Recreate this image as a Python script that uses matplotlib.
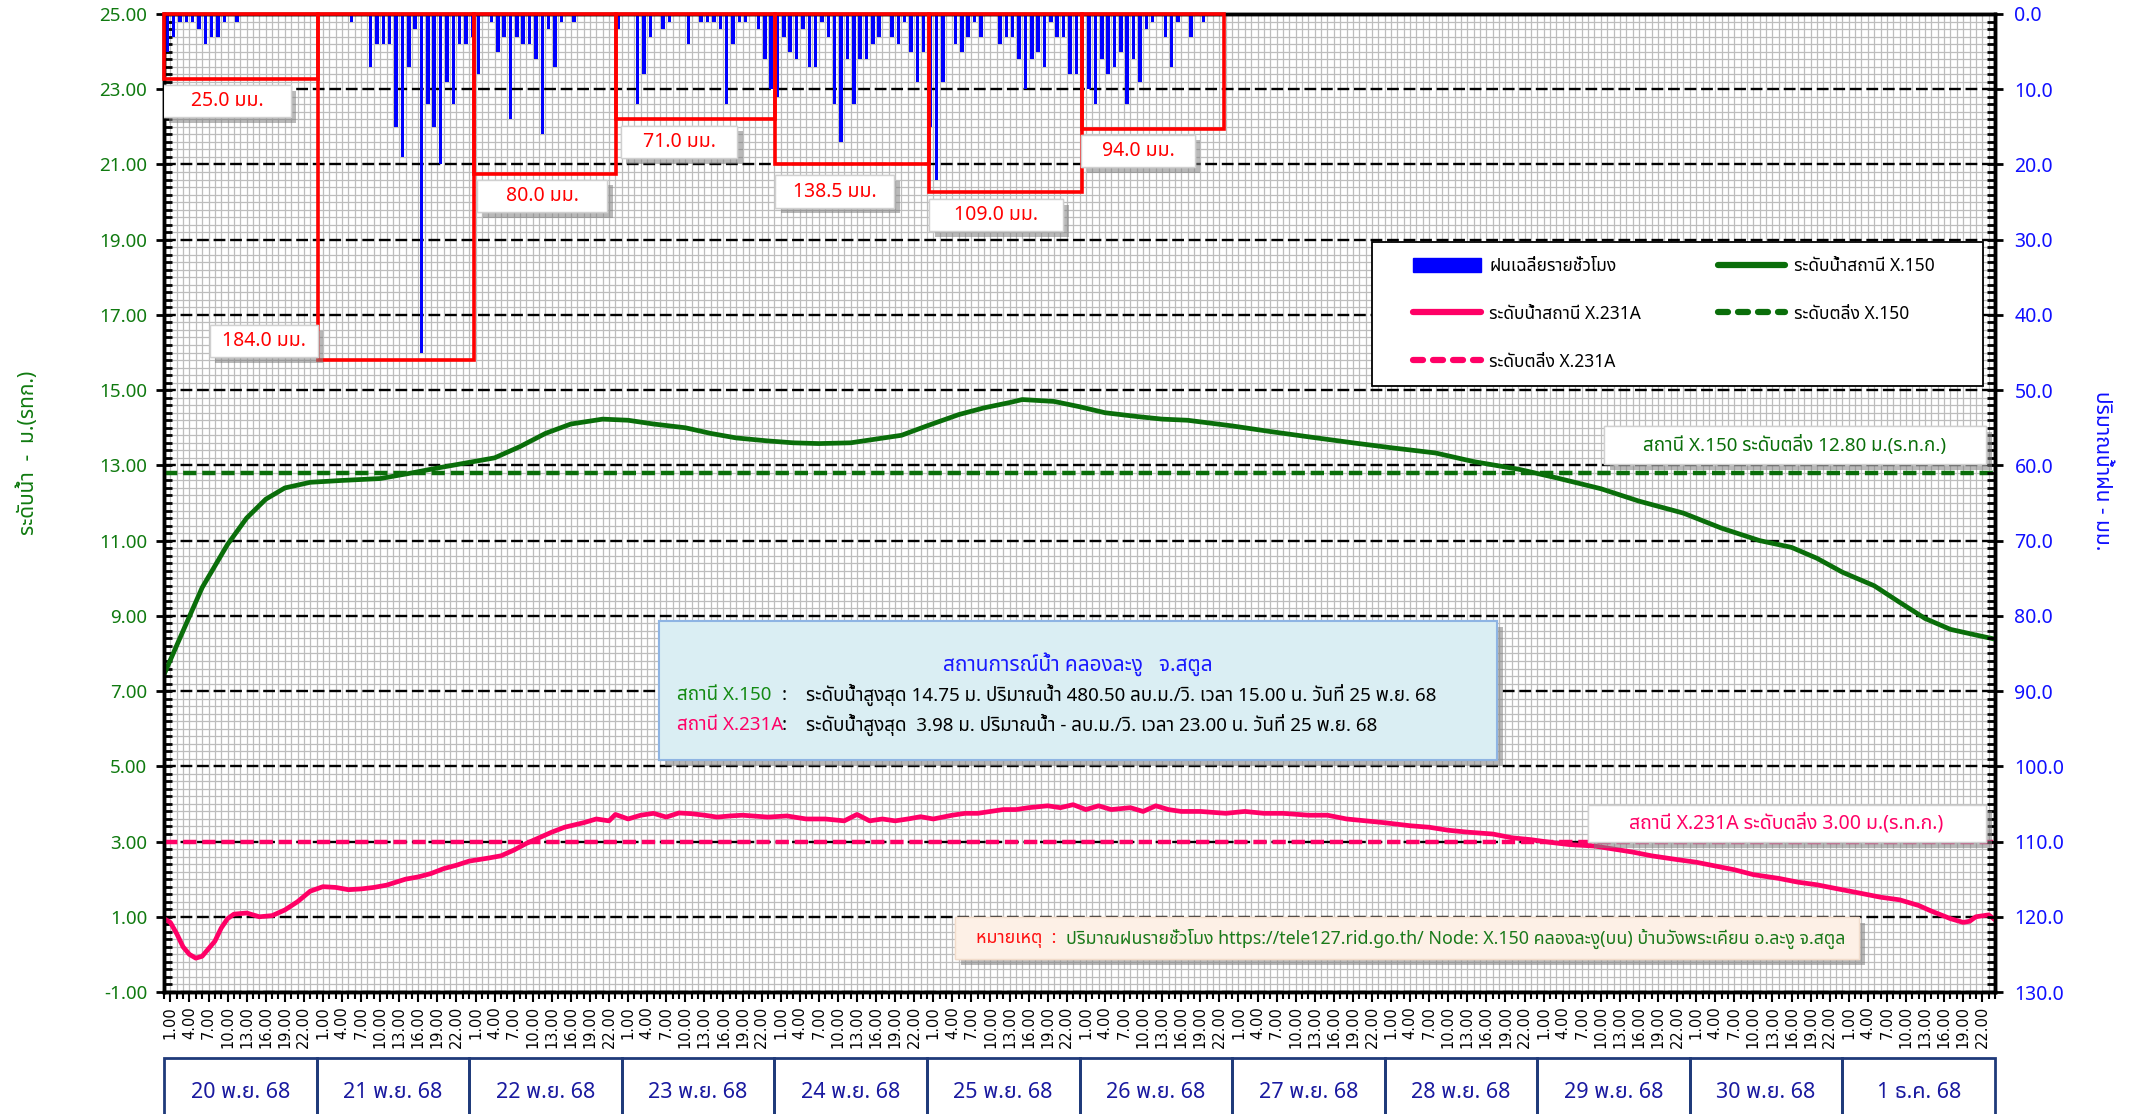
import numpy as np
import matplotlib
matplotlib.use('Agg')
import matplotlib.pyplot as plt
from matplotlib import font_manager
from matplotlib.patches import Rectangle, Patch
from matplotlib.lines import Line2D
from matplotlib.ticker import MultipleLocator, FixedLocator
from matplotlib.transforms import blended_transform_factory
import matplotlib.patheffects as pe

# ---------------- data ----------------
day_labels = ['20 พ.ย. 68', '21 พ.ย. 68', '22 พ.ย. 68', '23 พ.ย. 68', '24 พ.ย. 68',
              '25 พ.ย. 68', '26 พ.ย. 68', '27 พ.ย. 68', '28 พ.ย. 68', '29 พ.ย. 68',
              '30 พ.ย. 68', '1 ธ.ค. 68']

# hourly rain (mm), one list of 24 values per day (20-26 Nov), later days are zero
rain_20 = [5, 3, 1, 1, 1, 2, 4, 3, 3, 1, 0, 1, 0, 0, 0, 0, 0, 0, 0, 0, 0, 0, 0, 0]
rain_21 = [0, 0, 0, 0, 0, 1, 0, 0, 7, 4, 4, 4, 15, 19, 7, 2, 45, 12, 15, 20, 9, 12, 4, 4]
rain_22 = [3, 8, 0, 1, 5, 3, 14, 3, 4, 4, 6, 16, 2, 7, 1, 0, 1, 0, 0, 0, 0, 0, 0, 2]
rain_23 = [0, 0, 12, 8, 3, 0, 2, 1, 0, 0, 4, 0, 1, 1, 1, 2, 12, 4, 1, 1, 0, 2, 6, 10]
rain_24 = [11, 3, 5, 6, 2, 7, 7, 1, 3, 12, 17, 6, 12, 6, 6, 4, 3, 0, 3, 4, 1, 5, 9, 5]
rain_25 = [15, 22, 9, 0, 4, 5, 3, 1, 3, 0, 0, 4, 3, 3, 6, 10, 6, 5, 7, 1, 3, 3, 8, 8]
rain_26 = [8, 10, 12, 6, 8, 7, 5, 12, 6, 9, 2, 1, 0, 3, 7, 1, 0, 3, 0, 1, 0, 0, 0, 0]

# daily rain totals (boxes)
rain_totals = ['25.0', '184.0', '80.0', '71.0', '138.5', '109.0', '94.0']
rain_box_edges = [0, 24.3, 48.7, 71.1, 96.1, 120.3, 144.4, 166.7]
rain_box_depth = [8.7, 46.0, 21.3, 14.0, 20.0, 23.7, 15.3]

# water level X.150 (m MSL): hours from 00:00 of 20 Nov
x150_hours = [0, 3, 6, 10, 13, 16, 19, 23, 28, 34, 39, 43, 47, 52, 56, 60, 64, 69, 73, 77,
              82, 86, 90, 95, 99, 103, 108, 112, 116, 120, 125, 129, 133, 135, 140, 144,
              148, 153, 157, 161, 168, 174, 180, 187, 193, 200, 206, 213, 219, 226, 232,
              239, 245, 251, 256, 260, 264, 269, 273, 277, 281, 285, 288]
x150_level = [7.44, 8.6, 9.75, 10.9, 11.6, 12.1, 12.4, 12.55, 12.6, 12.65, 12.8, 12.93,
              13.05, 13.2, 13.5, 13.85, 14.1, 14.23, 14.2, 14.1, 14.0, 13.85, 13.73, 13.65,
              13.6, 13.58, 13.6, 13.7, 13.8, 14.05, 14.35, 14.53, 14.67, 14.75, 14.7, 14.56,
              14.4, 14.3, 14.23, 14.2, 14.05, 13.9, 13.76, 13.6, 13.47, 13.33, 13.1, 12.9,
              12.67, 12.38, 12.05, 11.73, 11.33, 11.0, 10.82, 10.53, 10.16, 9.8, 9.36, 8.93,
              8.64, 8.49, 8.38]

# water level X.231A
x231_hours = [0, 1, 2, 3, 4, 5, 6, 8, 9, 10, 11, 13, 15, 17, 19, 21, 23, 25, 27, 29, 31, 33,
              35, 38, 40, 42, 44, 46, 48, 51, 53, 55, 57, 59, 61, 63, 66, 68, 70, 71, 73, 75,
              77, 79, 81, 83, 85, 87, 89, 91, 95, 98, 101, 104, 107, 109, 111, 113, 115, 117,
              119, 121, 124, 126, 128, 130, 132, 134, 136, 139, 141, 143, 145, 147, 149, 152,
              154, 156, 158, 160, 163, 167, 170, 173, 176, 180, 183, 186, 189, 192, 196, 199,
              202, 205, 209, 212, 215, 218, 221, 225, 228, 231, 234, 238, 241, 244, 247, 250,
              254, 257, 260, 263, 267, 270, 273, 276, 278, 281, 283, 284, 285, 287, 288]
x231_level = [0.95, 0.85, 0.55, 0.2, 0.0, -0.1, -0.05, 0.35, 0.7, 0.95, 1.07, 1.1, 1.0, 1.03,
              1.18, 1.4, 1.68, 1.8, 1.78, 1.72, 1.74, 1.78, 1.84, 2.0, 2.06, 2.15, 2.28, 2.37,
              2.48, 2.56, 2.62, 2.77, 2.95, 3.1, 3.25, 3.38, 3.5, 3.6, 3.55, 3.72, 3.6, 3.7,
              3.75, 3.65, 3.76, 3.74, 3.7, 3.65, 3.68, 3.7, 3.65, 3.68, 3.6, 3.6, 3.55, 3.72,
              3.55, 3.6, 3.55, 3.6, 3.66, 3.6, 3.7, 3.75, 3.75, 3.8, 3.85, 3.85, 3.9, 3.95,
              3.9, 3.98, 3.85, 3.95, 3.85, 3.9, 3.8, 3.95, 3.85, 3.8, 3.8, 3.75, 3.8, 3.75,
              3.75, 3.7, 3.7, 3.6, 3.55, 3.5, 3.42, 3.38, 3.3, 3.25, 3.2, 3.1, 3.05, 2.98,
              2.92, 2.88, 2.8, 2.72, 2.62, 2.52, 2.45, 2.35, 2.25, 2.12, 2.02, 1.92, 1.85,
              1.75, 1.62, 1.52, 1.45, 1.3, 1.15, 0.95, 0.85, 0.88, 1.0, 1.05, 0.92]

bank_x150 = 12.80
bank_x231 = 3.00

# ---------------- fonts ----------------
def find_thai_font():
    found = {}
    try:
        from fontTools.ttLib import TTFont
    except Exception:
        return None
    for f in font_manager.fontManager.ttflist:
        try:
            tt = TTFont(f.fname, fontNumber=0, lazy=True)
            cmap = tt.getBestCmap()
            if cmap and 0x0E01 in cmap and 0x0E49 in cmap:
                found.setdefault(f.name, f.fname)
        except Exception:
            pass
    prefs = ['Tahoma', 'Noto Sans Thai', 'Noto Sans Thai UI', 'Loma', 'Garuda', 'Sarabun',
             'Umpush', 'Waree', 'Kinnari', 'Norasi', 'Noto Serif Thai', 'FreeSans']
    for p in prefs:
        if p in found:
            return p
    if found:
        return sorted(found)[0]
    return None

THAI = find_thai_font()
FAM = [THAI, 'DejaVu Sans'] if THAI else ['DejaVu Sans']
plt.rcParams['font.family'] = FAM

GREEN = '#0a6e0a'
GREEN_T = '#107a10'
PINK = '#ff0066'
BLUE_T = '#1010ff'
RED = '#ff0000'

W, H = 2140, 1114
fig = plt.figure(figsize=(W / 100, H / 100), dpi=100)
fig.patch.set_facecolor('white')

def fx(px):
    return px / W

def fy(py):
    return 1 - py / H

ax = fig.add_axes([fx(164), fy(992), fx(1995) - fx(164), fy(14) - fy(992)])
ax.set_xlim(0, 288)
ax.set_ylim(-1, 25)

# grid
ax.set_axisbelow(True)
ax.xaxis.set_minor_locator(MultipleLocator(1))
ax.yaxis.set_minor_locator(MultipleLocator(0.2))
ax.grid(which='minor', color='#bdbdbd', lw=0.9)
ax.grid(which='major', axis='x', color='#bdbdbd', lw=0.9)
ax.grid(which='major', axis='y', color='black', lw=1.7, ls=(0, (5, 2)))

# x ticks
xt = [h for h in range(1, 288, 3)]
ax.xaxis.set_major_locator(FixedLocator(xt))
ax.set_xticklabels([f'{h % 24}.00' for h in xt], rotation=90, fontfamily='DejaVu Sans',
                   fontsize=10.5)
ax.tick_params(axis='x', which='major', direction='out', length=7, width=1.5, pad=3)
ax.tick_params(axis='x', which='minor', direction='out', length=5, width=1.5)

# y ticks left
ax.set_yticks(np.arange(-1, 26, 2))
ax.set_yticklabels([f'{v:.2f}' for v in np.arange(-1, 26, 2)])
ax.tick_params(axis='y', which='major', direction='inout', length=12, width=2,
               labelsize=13.5, labelcolor=GREEN_T, pad=6)
ax.tick_params(axis='y', which='minor', direction='in', length=6, width=2)

for s in ax.spines.values():
    s.set_linewidth(2.5)

# water levels
ax.axhline(bank_x150, color=GREEN, lw=3.2, ls=(0, (3, 1.3)), zorder=4)
ax.axhline(bank_x231, color=PINK, lw=3.2, ls=(0, (3, 1.3)), zorder=4)
ax.plot(x150_hours, x150_level, color=GREEN, lw=3.4, zorder=5, solid_capstyle='round',
        solid_joinstyle='round')
ax.plot(x231_hours, x231_level, color=PINK, lw=3.4, zorder=5, solid_capstyle='round',
        solid_joinstyle='round')

# rain axis
ax2 = ax.twinx()
ax2.set_ylim(130, 0)
ax2.set_yticks(np.arange(0, 131, 10))
ax2.set_yticklabels([f'{v:.1f}' for v in np.arange(0, 131, 10)])
ax2.yaxis.set_minor_locator(MultipleLocator(1))
ax2.tick_params(axis='y', which='major', direction='inout', length=12, width=2,
                labelsize=14, labelcolor=BLUE_T, pad=8)
ax2.tick_params(axis='y', which='minor', direction='in', length=6, width=2)
for s in ax2.spines.values():
    s.set_linewidth(2.5)

rain = np.zeros(288)
for d, vals in enumerate([rain_20, rain_21, rain_22, rain_23, rain_24, rain_25, rain_26]):
    rain[d * 24:(d + 1) * 24] = vals
hours_c = np.arange(288) + 0.5
ax2.bar(hours_c, rain, width=0.55, color='#0000ff', zorder=2)

shadow = [pe.withSimplePatchShadow(offset=(4, -4), shadow_rgbFace='#808080', alpha=0.55),
          pe.Normal()]

for i in range(len(rain_totals)):
    x0, x1 = rain_box_edges[i], rain_box_edges[i + 1]
    ax2.add_patch(Rectangle((x0, 0), x1 - x0, rain_box_depth[i], fill=False,
                            ec=RED, lw=2.6, zorder=3, clip_on=False))

# label positions (hour, rain-axis units) and widths (hours)
lab_pos = [(9.9, 11.6), (15.7, 43.5), (59.5, 24.2), (81.0, 17.0), (105.5, 23.6),
           (130.9, 26.75), (153.2, 18.2)]
lab_w = [20, 17, 20.4, 18.3, 18.7, 21, 17.8]
for i, t in enumerate(rain_totals):
    cx, cy = lab_pos[i]
    w = lab_w[i]
    r = Rectangle((cx - w / 2, cy - 2.15), w, 4.3, fc='white', ec='#d0d0d0', lw=1,
                  zorder=4, path_effects=shadow)
    ax2.add_patch(r)
    ax2.text(cx, cy, f'{t} มม.', color=RED, fontsize=14, ha='center', va='center',
             zorder=5)

# day table
trans = blended_transform_factory(ax.transData, fig.transFigure)
for d, lab in enumerate(day_labels):
    ax.add_patch(Rectangle((d * 24, fy(1125)), 24, fy(1058) - fy(1125), fill=False,
                           ec='#1f3a7a', lw=2, transform=trans, clip_on=False))
    ax.text(d * 24 + 12, fy(1092), lab, transform=trans, ha='center', va='center',
            color='#1a1aa0', fontsize=15.5, clip_on=False)

# axis labels
fig.text(fx(28), fy(453), 'ระดับน้ำ  -  ม.(รทก.)', rotation=90, color=GREEN_T,
         fontsize=15, ha='center', va='center')
fig.text(fx(2102), fy(471), 'ปริมาณน้ำฝน - มม.', rotation=270, color=BLUE_T,
         fontsize=15, ha='center', va='center')

def fig_box(x0, y0, x1, y1, fc, ec, lw=1.0, shadow_on=True, z=6):
    r = Rectangle((fx(x0), fy(y1)), fx(x1) - fx(x0), fy(y0) - fy(y1), transform=fig.transFigure,
                  fc=fc, ec=ec, lw=lw, zorder=z)
    if shadow_on:
        r.set_path_effects(shadow)
    fig.add_artist(r)

# legend (frame drawn separately)
fig_box(1372, 242, 1983, 386, 'white', 'black', lw=1.3, shadow_on=False, z=9)
handles = [
    Patch(fc='#0000ff', ec='#0000ff'),
    Line2D([], [], color=PINK, lw=4.5, solid_capstyle='round'),
    Line2D([], [], color=PINK, lw=4.5, ls=(0, (1.6, 1.6)), dash_capstyle='round'),
    Line2D([], [], color=GREEN, lw=4.5, solid_capstyle='round'),
    Line2D([], [], color=GREEN, lw=4.5, ls=(0, (1.6, 1.6)), dash_capstyle='round'),
]
labels = ['ฝนเฉลี่ยรายชั่วโมง', 'ระดับน้ำสถานี X.231A', 'ระดับตลิ่ง X.231A',
          'ระดับน้ำสถานี X.150', 'ระดับตลิ่ง X.150']
leg = fig.legend(handles, labels, loc='center left', bbox_to_anchor=(fx(1413), fy(314)),
                 ncol=2, frameon=False, borderaxespad=0, borderpad=0,
                 prop={'family': FAM, 'size': 12.5}, handlelength=3.9,
                 handleheight=0.9, labelspacing=1.72, handletextpad=0.5, columnspacing=4.4)
leg.set_zorder(10)

# bank level labels
fig_box(1604, 426, 1986, 464, 'white', '#d0d0d0')
fig.text(fx(1795), fy(445), 'สถานี X.150 ระดับตลิ่ง 12.80 ม.(ร.ท.ก.)', color=GREEN,
         fontsize=13.5, ha='center', va='center', zorder=7)
fig_box(1588, 805, 1986, 842, 'white', '#d0d0d0')
fig.text(fx(1786), fy(823), 'สถานี X.231A ระดับตลิ่ง 3.00 ม.(ร.ท.ก.)', color=PINK,
         fontsize=14, ha='center', va='center', zorder=7)

# info box
fig_box(659, 621, 1497, 760, '#daeef3', '#8eb4e3', lw=1.5)
fig.text(fx(1078), fy(664), 'สถานการณ์น้ำ คลองละงู   จ.สตูล', color='#1a1aff', fontsize=15,
         ha='center', va='center', zorder=7)
fig.text(fx(677), fy(695), 'สถานี X.150', color='#138a13', fontsize=13.5, ha='left',
         va='center', zorder=7)
fig.text(fx(782), fy(695), ':', color='black', fontsize=13.5, ha='left', va='center', zorder=7)
fig.text(fx(806), fy(695),
         'ระดับน้ำสูงสุด 14.75 ม. ปริมาณน้ำ 480.50 ลบ.ม./วิ. เวลา 15.00 น. วันที่ 25 พ.ย. 68',
         color='black', fontsize=13.5, ha='left', va='center', zorder=7)
fig.text(fx(677), fy(725), 'สถานี X.231A', color=PINK, fontsize=13.5, ha='left',
         va='center', zorder=7)
fig.text(fx(782), fy(725), ':', color='black', fontsize=13.5, ha='left', va='center', zorder=7)
fig.text(fx(806), fy(725),
         'ระดับน้ำสูงสุด  3.98 ม. ปริมาณน้ำ - ลบ.ม./วิ. เวลา 23.00 น. วันที่ 25 พ.ย. 68',
         color='black', fontsize=13.5, ha='left', va='center', zorder=7)

# note box
fig_box(955, 917, 1859, 959, '#fdf0e6', '#f2dccb')
fig.text(fx(976), fy(939), 'หมายเหตุ  :', color='#ff1010', fontsize=12.8, ha='left',
         va='center', zorder=7)
fig.text(fx(1066), fy(939),
         'ปริมาณฝนรายชั่วโมง https://tele127.rid.go.th/ Node: X.150 คลองละงู(บน) บ้านวังพระเคียน อ.ละงู จ.สตูล',
         color='#1a7a1a', fontsize=12.8, ha='left', va='center', zorder=7)

fig.savefig('out.png', dpi=100, facecolor='white')
